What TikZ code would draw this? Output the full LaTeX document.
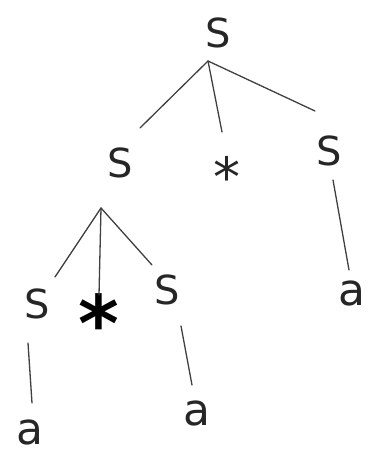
\documentclass[tikz,border=0pt]{standalone}
\usepackage{fontspec}
\setmainfont{DejaVu Sans}
\begin{document}
\begin{tikzpicture}[x=1pt,y=-1pt,
  sym/.style={inner sep=0pt, text=black!85, font=\fontsize{40}{40}\selectfont},
  term/.style={inner sep=0pt, text=black!85, font=\fontsize{44}{44}\selectfont},
  star/.style={inner sep=0pt, text=black!85, font=\fontsize{54}{54}\selectfont},
  edge/.style={draw=black!75, line width=1.3pt, line cap=round}]
\useasboundingbox (0,0) rectangle (371,454);
% symbols
\node[sym] (s0) at (218,33) {S};
\node[sym] (s1) at (120,163) {S};
\node[star] (t1) at (227,176) {*};
\node[sym] (s2) at (329,151) {S};
\node[term] (a2) at (352,293) {a};
\node[sym] (s3) at (37,304) {S};
\node[star,text=black,font=\fontsize{78}{78}\selectfont\bfseries] (t3) at (99,323) {*};
\node[sym] (s4) at (167,290) {S};
\node[term] (a3) at (30,432) {a};
\node[term] (a4) at (197,413) {a};
% branch points and line ends
\coordinate (p0) at (208,61);
\coordinate (p1) at (101,208);
\coordinate (e01) at (140,128);
\coordinate (e0t) at (222,132);
\coordinate (e02) at (315,111);
\coordinate (b2) at (333,180);
\coordinate (e2) at (349,270);
\coordinate (e13) at (55,277);
\coordinate (e1t) at (99,295);
\coordinate (e14) at (152,265);
\coordinate (b3) at (28,343);
\coordinate (e3) at (32,403);
\coordinate (b4) at (181,326);
\coordinate (e4) at (192,385);
% branches
\draw[edge] (p0) -- (e01);
\draw[edge] (p0) -- (e0t);
\draw[edge] (p0) -- (e02);
\draw[edge] (b2) -- (e2);
\draw[edge] (p1) -- (e13);
\draw[edge] (p1) -- (e1t);
\draw[edge] (p1) -- (e14);
\draw[edge] (b3) -- (e3);
\draw[edge] (b4) -- (e4);
\end{tikzpicture}
\end{document}
